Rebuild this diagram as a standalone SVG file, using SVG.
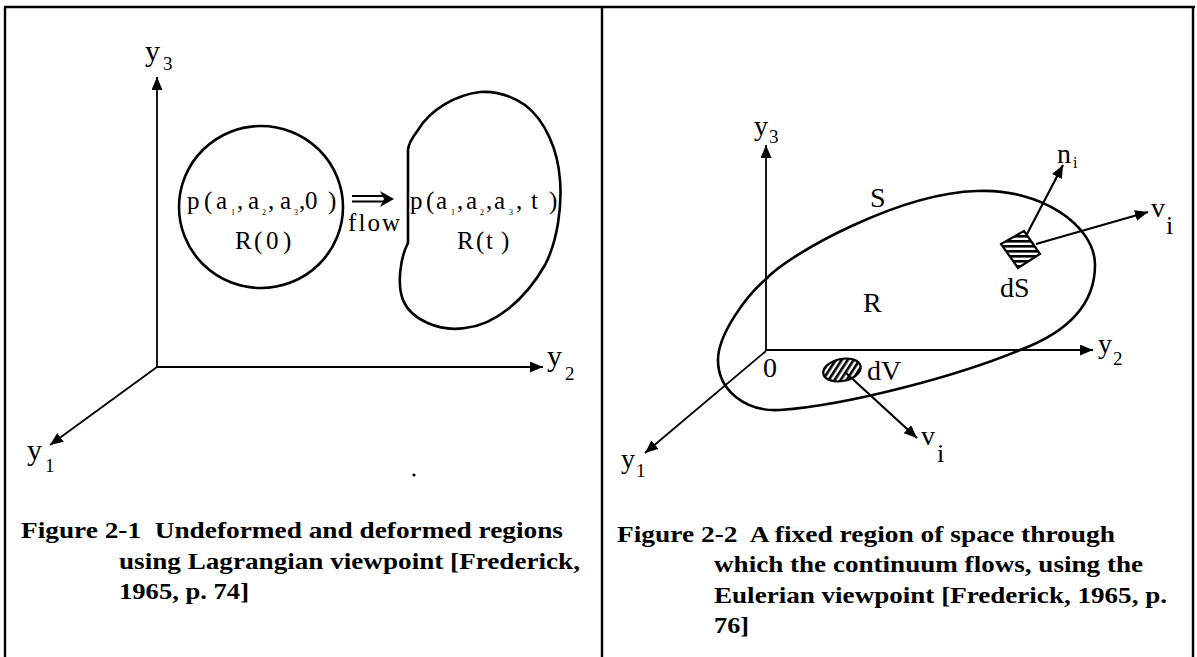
<svg xmlns="http://www.w3.org/2000/svg" width="1197" height="657" viewBox="0 0 1197 657">
<defs>
<style>
.ln{stroke:#000;fill:none}
.ax{stroke-width:1.8}
.cv{stroke-width:2.6}
.lbl{font-family:"Liberation Serif","Times New Roman",serif;font-size:28px;fill:#000}
.lblL{font-family:"Liberation Serif","Times New Roman",serif;font-size:30px;fill:#000}
.sub{font-family:"Liberation Serif","Times New Roman",serif;font-size:19px;fill:#000}
.pt{font-family:"Liberation Serif","Times New Roman",serif;font-size:25px;fill:#000}
.tiny{font-family:"Liberation Serif","Times New Roman",serif;font-size:8px;fill:#000}
.cap{font-family:"Liberation Serif","Times New Roman",serif;font-weight:bold;font-size:24px;fill:#000;white-space:pre}
</style>
<marker id="ah" markerUnits="userSpaceOnUse" markerWidth="14" markerHeight="12" refX="13" refY="5.5" orient="auto">
<path d="M0,0 L13,5.5 L0,11 Z" fill="#000"/>
</marker>
<pattern id="hz" patternUnits="userSpaceOnUse" width="6" height="5">
<rect x="0" y="0" width="6" height="2.6" fill="#000"/>
</pattern>
<pattern id="dg" patternUnits="userSpaceOnUse" width="5" height="5" patternTransform="rotate(45)">
<rect x="0" y="0" width="2.6" height="5" fill="#000"/>
</pattern>
</defs>
<rect x="0" y="0" width="1197" height="657" fill="#fff"/>

<g id="frame" class="ln" stroke-width="2.4">
<line x1="4" y1="7" x2="1195" y2="7"/>
<line x1="5" y1="7" x2="5" y2="657"/>
<line x1="602" y1="7" x2="602" y2="657"/>
<line x1="1193" y1="7" x2="1193" y2="657"/>
</g>

<!-- Figure 2-1 -->
<g id="region-R0">
<ellipse class="ln cv" cx="261" cy="207" rx="82" ry="81"/>
<text class="pt" y="209"><tspan x="187">p</tspan><tspan x="204">(</tspan><tspan x="216">a</tspan><tspan x="237">,</tspan><tspan x="248">a</tspan><tspan x="268">,</tspan><tspan x="280">a</tspan><tspan x="299">,</tspan><tspan x="305">0</tspan><tspan x="328">)</tspan></text>
<text class="tiny" y="215"><tspan x="231">1</tspan><tspan x="262">2</tspan><tspan x="294">3</tspan></text>
<text class="pt" y="249"><tspan x="235">R</tspan><tspan x="254">(</tspan><tspan x="266">0</tspan><tspan x="283">)</tspan></text>
</g>

<g id="region-Rt">
<path class="ln cv" d="M408,150 L408,243 C400,258 397,285 403,300 C411,320 440,332 465,328 C495,325 525,300 545,265 C558,240 562,205 560,180 C558,150 545,120 525,105 C510,95 495,91 480,92 C455,95 430,110 418,130 C412,138 408,145 408,150 Z"/>
<text class="pt" y="209"><tspan x="410">p</tspan><tspan x="426">(</tspan><tspan x="436">a</tspan><tspan x="457">,</tspan><tspan x="466">a</tspan><tspan x="486">,</tspan><tspan x="494">a</tspan><tspan x="516">,</tspan><tspan x="531">t</tspan><tspan x="549">)</tspan></text>
<text class="tiny" y="215"><tspan x="451">1</tspan><tspan x="480">2</tspan><tspan x="509">3</tspan></text>
<text class="pt" y="249"><tspan x="457">R</tspan><tspan x="476">(</tspan><tspan x="486">t</tspan><tspan x="501">)</tspan></text>
</g>

<g id="flow">
<path class="ln" stroke-width="1.8" d="M352,196 L386,196 M352,201.5 L386,201.5"/>
<path d="M380,191 L394,199 L380,207 L384,199 Z" fill="#000"/>
<text class="pt" x="348" y="231" textLength="52" lengthAdjust="spacing">flow</text>
</g>

<g id="axes-left-labels">
<text class="lblL" x="145" y="61">y</text><text class="sub" x="163" y="70">3</text>
<text class="lblL" x="547" y="366">y</text><text class="sub" x="565" y="380">2</text>
<text class="lblL" x="27" y="460">y</text><text class="sub" x="45" y="472">1</text>
</g>
<circle cx="414" cy="475" r="1.6" fill="#000"/>

<g id="caption-2-1">
<text class="cap" x="21" y="538" textLength="542" lengthAdjust="spacingAndGlyphs" xml:space="preserve">Figure 2-1  Undeformed and deformed regions</text>
<text class="cap" x="119" y="569" textLength="461" lengthAdjust="spacingAndGlyphs">using Lagrangian viewpoint [Frederick,</text>
<text class="cap" x="119" y="599" textLength="130" lengthAdjust="spacingAndGlyphs">1965, p. 74]</text>
</g>

<!-- Figure 2-2 -->
<g id="region-R">
<path class="ln cv" d="M718,360 C718,335 745,297 766,279 C790,253 900,193 977,191 C1040,188 1095,225 1095,265 C1095,310 1060,335 1020,350 C960,375 850,405 780,410 C745,412 718,390 718,360 Z"/>
<text class="lbl" x="870" y="207">S</text>
<text class="lbl" x="863" y="312">R</text>
</g>

<g id="element-dS">
<polygon points="1001,244 1024,231 1040,254 1018,268" fill="url(#hz)" stroke="#000" stroke-width="2.2"/>
<text class="lbl" x="1000" y="297">dS</text>
</g>

<g id="element-dV">
<ellipse cx="842" cy="370" rx="19" ry="11" transform="rotate(-12 842 370)" fill="url(#dg)" stroke="#000" stroke-width="2.2"/>
<text class="lbl" x="867" y="380">dV</text>
</g>

<g id="axes-right-labels">
<text class="lbl" x="754" y="135">y</text><text class="sub" x="769" y="143">3</text>
<text class="lbl" x="1098" y="353">y</text><text class="sub" x="1113" y="365">2</text>
<text class="lbl" x="621" y="468">y</text><text class="sub" x="636" y="477">1</text>
<text class="lbl" x="763" y="377">0</text>
<text class="lbl" x="1057" y="163">n</text><text class="sub" x="1073" y="168" style="font-size:16px">i</text>
<text class="lbl" x="1151" y="217">v</text><text class="lbl" x="1166" y="234" style="font-size:26px">i</text>
<text class="lbl" x="921" y="445">v</text><text class="lbl" x="937" y="462" style="font-size:26px">i</text>
</g>

<g id="caption-2-2">
<text class="cap" x="617" y="542" textLength="498" lengthAdjust="spacingAndGlyphs" xml:space="preserve">Figure 2-2  A fixed region of space through</text>
<text class="cap" x="714" y="572" textLength="429" lengthAdjust="spacingAndGlyphs">which the continuum flows, using the</text>
<text class="cap" x="714" y="603" textLength="453" lengthAdjust="spacingAndGlyphs">Eulerian viewpoint [Frederick, 1965, p.</text>
<text class="cap" x="714" y="633" textLength="35" lengthAdjust="spacingAndGlyphs">76]</text>
</g>

<g id="connectors" class="ln">
<line class="ax" x1="157" y1="367" x2="157" y2="77" marker-end="url(#ah)"/>
<line class="ax" x1="157" y1="367" x2="543" y2="367" marker-end="url(#ah)"/>
<line class="ax" x1="157" y1="367" x2="50" y2="445" marker-end="url(#ah)"/>
<line class="ax" x1="766" y1="351" x2="766" y2="145" marker-end="url(#ah)"/>
<line class="ax" x1="766" y1="350" x2="1093" y2="350" marker-end="url(#ah)"/>
<line class="ax" x1="766" y1="351" x2="645" y2="453" marker-end="url(#ah)"/>
<line x1="1027" y1="234" x2="1063" y2="165" stroke-width="2.2" marker-end="url(#ah)"/>
<line x1="1036" y1="244" x2="1148" y2="212" stroke-width="2.2" marker-end="url(#ah)"/>
<line x1="846" y1="373" x2="917" y2="438" stroke-width="2.2" marker-end="url(#ah)"/>
</g>
</svg>
